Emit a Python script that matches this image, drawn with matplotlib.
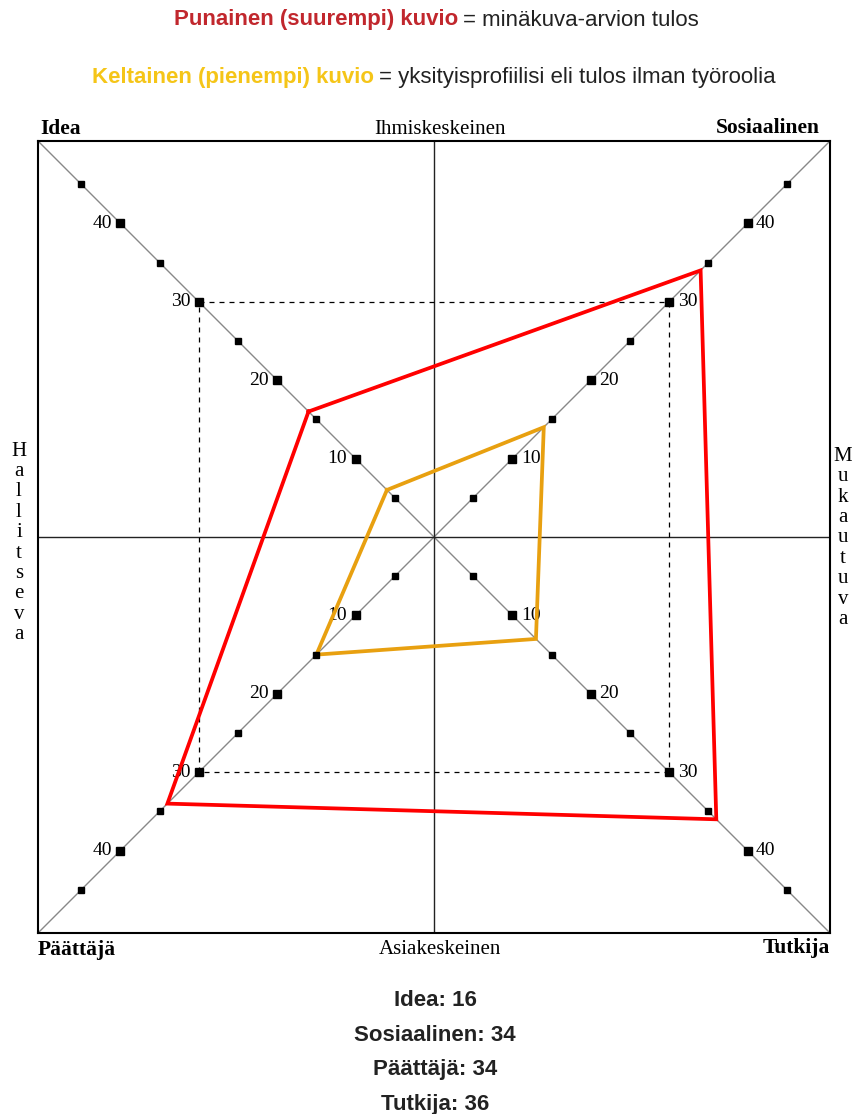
import matplotlib.pyplot as plt

# data
categories = ['Idea', 'Sosiaalinen', 'Tutkija', 'Päättäjä']
red_values = [16, 34, 36, 34]      # minäkuva-arvio
yellow_values = [6, 14, 13, 15]    # yksityisprofiili
minor_ticks = [5, 15, 25, 35, 45]
major_ticks = [10, 20, 30, 40]
scores = ['Idea: 16', 'Sosiaalinen: 34', 'Päättäjä: 34', 'Tutkija: 36']

# suunnat (x, y) kullekin akselille
directions = {'Idea': (-1, 1), 'Sosiaalinen': (1, 1),
              'Tutkija': (1, -1), 'Päättäjä': (-1, -1)}
L = 50.5
SERIF = 'Liberation Serif'
SANS = 'Liberation Sans'

fig = plt.figure(figsize=(8.58, 11.14), dpi=100)
W, H = 858, 1114
ax = fig.add_axes([38 / W, 1 - 933 / H, 792 / W, 792 / H])
ax.set_xlim(-L, L)
ax.set_ylim(-L, L)
ax.set_xticks([])
ax.set_yticks([])
for s in ax.spines.values():
    s.set_linewidth(1.5)
    s.set_color('black')

# ristikko
ax.plot([-L, L], [-L, L], color='#888888', lw=1, zorder=1)
ax.plot([-L, L], [L, -L], color='#888888', lw=1, zorder=1)
ax.axhline(0, color='#222222', lw=1, zorder=1)
ax.axvline(0, color='#222222', lw=1, zorder=1)
ax.plot([-30, 30, 30, -30, -30], [30, 30, -30, -30, 30], color='black',
        lw=0.9, ls=(0, (4, 4)), zorder=1)

# asteikot
for cat in categories:
    dx, dy = directions[cat]
    ax.plot([dx * v for v in minor_ticks], [dy * v for v in minor_ticks], 's',
            color='black', ms=4.3, zorder=5)
    ax.plot([dx * v for v in major_ticks], [dy * v for v in major_ticks], 's',
            color='black', ms=6, zorder=5)
    for v in major_ticks:
        ax.annotate(str(v), (dx * v, dy * v), xytext=(6 * dx, 0),
                    textcoords='offset points', ha='left' if dx > 0 else 'right',
                    va='center', fontsize=14, family=SERIF, zorder=2)

# kuviot
def polygon(values, color):
    xs = [directions[c][0] * v for c, v in zip(categories, values)]
    ys = [directions[c][1] * v for c, v in zip(categories, values)]
    ax.plot(xs + xs[:1], ys + ys[:1], color=color, lw=2.7, zorder=3,
            solid_joinstyle='miter')

polygon(red_values, '#ff0000')
polygon(yellow_values, '#e8a010')

# akselien nimet
fig.text(40 / W, 1 - 129 / H, 'Idea', fontsize=15.5, weight='bold',
         family=SERIF, ha='left', va='center')
fig.text(820 / W, 1 - 128 / H, 'Sosiaalinen', fontsize=15.5, weight='bold',
         family=SERIF, ha='right', va='center')
fig.text(38 / W, 1 - 950 / H, 'Päättäjä', fontsize=15.5, weight='bold',
         family=SERIF, ha='left', va='center')
fig.text(830 / W, 1 - 948 / H, 'Tutkija', fontsize=15.5, weight='bold',
         family=SERIF, ha='right', va='center')
fig.text(440 / W, 1 - 129 / H, 'Ihmiskeskeinen', fontsize=15,
         family=SERIF, ha='center', va='center')
fig.text(440 / W, 1 - 949 / H, 'Asiakeskeinen', fontsize=15,
         family=SERIF, ha='center', va='center')
fig.text(19 / W, 1 - 543 / H, '\n'.join('Hallitseva'), fontsize=15,
         family=SERIF, ha='center', va='center', linespacing=1.1)
fig.text(843 / W, 1 - 538 / H, '\n'.join('Mukautuva'), fontsize=15,
         family=SERIF, ha='center', va='center', linespacing=1.1)

# otsikot: lihavoitu värillinen osa + normaali osa
renderer = fig.canvas.get_renderer()

def title_line(y, bold_part, rest, color, cx):
    t1 = fig.text(0, 1 - y / H, bold_part, fontsize=16, weight='bold',
                  color=color, family=SANS, ha='left', va='center')
    t2 = fig.text(0, 1 - y / H, '= ' + rest, fontsize=16, color='#222222',
                  family=SANS, ha='left', va='center')
    w1 = t1.get_window_extent(renderer).width
    w2 = t2.get_window_extent(renderer).width
    gap = 5
    x0 = cx - (w1 + gap + w2) / 2
    t1.set_x(x0 / W)
    t2.set_x((x0 + w1 + gap) / W)

title_line(20, 'Punainen (suurempi) kuvio', 'minäkuva-arvion tulos',
           '#c1272d', 436)
title_line(77, 'Keltainen (pienempi) kuvio',
           'yksityisprofiilisi eli tulos ilman työroolia', '#f5c518', 434)

# pisteet
for i, s in enumerate(scores):
    fig.text(435 / W, 1 - (1001 + 34.5 * i) / H, s, fontsize=16,
             weight='bold', color='#222222', family=SANS,
             ha='center', va='center')

fig.savefig('out.png', dpi=100)
